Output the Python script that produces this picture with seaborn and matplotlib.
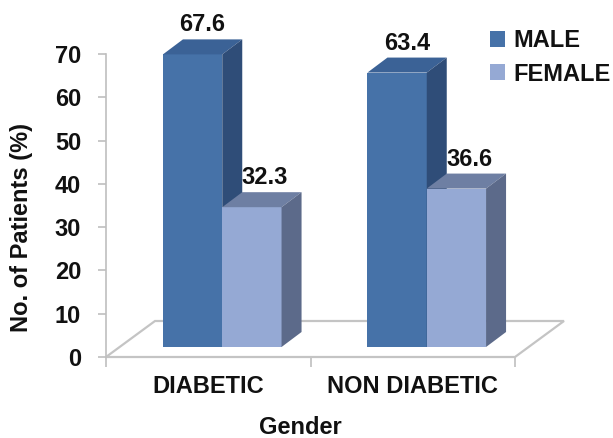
import matplotlib
matplotlib.use("Agg")
import matplotlib.pyplot as plt
import matplotlib.transforms as mtransforms
from matplotlib.font_manager import FontProperties
from matplotlib.patches import Polygon, Patch
import pandas as pd
import seaborn as sns

# ---- data -------------------------------------------------------------
groups = ["DIABETIC", "NON DIABETIC"]
series = ["MALE", "FEMALE"]
male = [67.6, 63.4]
female = [32.3, 36.6]
y_ticks = [0, 10, 20, 30, 40, 50, 60, 70]

df = pd.DataFrame({
    "group": groups * 2,
    "sex": [series[0]] * len(groups) + [series[1]] * len(groups),
    "pct": male + female,
})

# face colours of the extruded bars
front = {"MALE": "#4672A8", "FEMALE": "#95A9D4"}
top = {"MALE": "#3B6296", "FEMALE": "#6E7FA3"}
side = {"MALE": "#2F4D78", "FEMALE": "#5C6A8A"}

sns.set_theme(style="white")
FAMILY = ["Liberation Sans", "DejaVu Sans"]
plt.rcParams["font.family"] = FAMILY
plt.rcParams["font.weight"] = "bold"
FS = 17
TXT = "#111111"
bold_font = FontProperties(family=FAMILY, weight="bold", size=FS)

W, H, DPI = 613, 438, 100
fig = plt.figure(figsize=(W / DPI, H / DPI), dpi=DPI)
ax = fig.add_axes([106 / W, (H - 357) / H, 409 / W, 303 / H])

sns.barplot(data=df, x="group", y="pct", hue="sex", order=groups,
            hue_order=series, palette=front, saturation=1, width=0.58,
            gap=0, legend=False, edgecolor="none", linewidth=0, ax=ax)
ax.set_xlim(-0.5, 1.5)
ax.set_ylim(0, 70)

ident = mtransforms.IdentityTransform()

# pseudo-3D geometry in pixels
BAR_SHIFT = (14, 10)     # bars stand partway back on the floor
DEPTH = (20, 15)         # extrusion of each bar
FLOOR = (49, 36)         # depth of the floor plate

# floor plate
fl0 = ax.transAxes.transform((0, 0))
fl1 = ax.transAxes.transform((1, 0))
floor = Polygon([fl0, fl1, fl1 + FLOOR, fl0 + FLOOR], closed=True,
                facecolor="white", edgecolor="#C4C4C4", lw=1.6,
                transform=ident, zorder=1, clip_on=False)
ax.add_artist(floor)

shift = mtransforms.ScaledTranslation(BAR_SHIFT[0] / DPI, BAR_SHIFT[1] / DPI,
                                      fig.dpi_scale_trans)

for level, (name, cont) in enumerate(zip(series, ax.containers)):
    z = 3 + level
    for bar in cont:
        x0, y0 = bar.get_x(), bar.get_y()
        x1, y1 = x0 + bar.get_width(), y0 + bar.get_height()
        bar.set_transform(ax.transData + shift)
        bar.set_zorder(z)
        bar.set_clip_on(False)
        (px0, py0), (px1, py1) = ax.transData.transform([(x0, y0), (x1, y1)])
        px0 += BAR_SHIFT[0]; px1 += BAR_SHIFT[0]
        py0 += BAR_SHIFT[1]; py1 += BAR_SHIFT[1]
        dx, dy = DEPTH
        top_face = Polygon([(px0, py1), (px1, py1), (px1 + dx, py1 + dy),
                            (px0 + dx, py1 + dy)], closed=True,
                           facecolor=top[name], edgecolor="none",
                           transform=ident, zorder=z + 0.5, clip_on=False)
        side_face = Polygon([(px1, py0), (px1 + dx, py0 + dy),
                             (px1 + dx, py1 + dy), (px1, py1)], closed=True,
                            facecolor=side[name], edgecolor="none",
                            transform=ident, zorder=z + 0.5, clip_on=False)
        ax.add_artist(top_face)
        ax.add_artist(side_face)
        cx = (px0 + px1) / 2 + dx / 2 + 3 * level
        cy = py1 + dy / 2 + 22
        ax.text(cx, cy, f"{bar.get_height():.1f}", transform=ident,
                ha="center", va="center", fontproperties=bold_font,
                color=TXT, zorder=10, clip_on=False)

# axes styling
for s in ["top", "right", "bottom"]:
    ax.spines[s].set_visible(False)
ax.spines["left"].set_color("#BFBFBF")
ax.spines["left"].set_linewidth(1.2)
ax.set_yticks(y_ticks)
ax.set_xticks([0, 1])
ax.set_xticklabels(groups)
ax.set_xticks([-0.5, 0.5, 1.5], minor=True)
ax.tick_params(axis="y", left=True, length=6, width=1.2, color="#BFBFBF",
               pad=12, labelsize=FS, labelcolor=TXT)
ax.tick_params(axis="x", which="major", bottom=True, length=0, pad=13,
               labelsize=FS, labelcolor=TXT)
ax.tick_params(axis="x", which="minor", bottom=True, length=7, width=1.2,
               color="#BFBFBF")
for lab in ax.get_xticklabels() + ax.get_yticklabels():
    lab.set_fontweight("bold")

ax.set_ylabel("No. of Patients (%)", fontproperties=bold_font,
              color=TXT, va="center", ha="center")
ax.set_xlabel("Gender", fontproperties=bold_font, color=TXT,
              va="center", ha="center")
ax.yaxis.set_label_coords((22 - 106) / 409, (357 - 228) / 303)
ax.xaxis.set_label_coords((300 - 106) / 409, (357 - 427) / 303)

handles = [Patch(facecolor=front[s], edgecolor="none") for s in series]
leg = ax.legend(handles, series, loc="upper left",
                bbox_to_anchor=(490 / W, (H - 29) / H),
                bbox_transform=fig.transFigure, frameon=False,
                handlelength=0.65, handleheight=0.65, handletextpad=0.35,
                labelspacing=0.45, prop=bold_font,
                borderaxespad=0, borderpad=0)
for t in leg.get_texts():
    t.set_color(TXT)

fig.savefig("out.png", dpi=DPI, facecolor="white")
